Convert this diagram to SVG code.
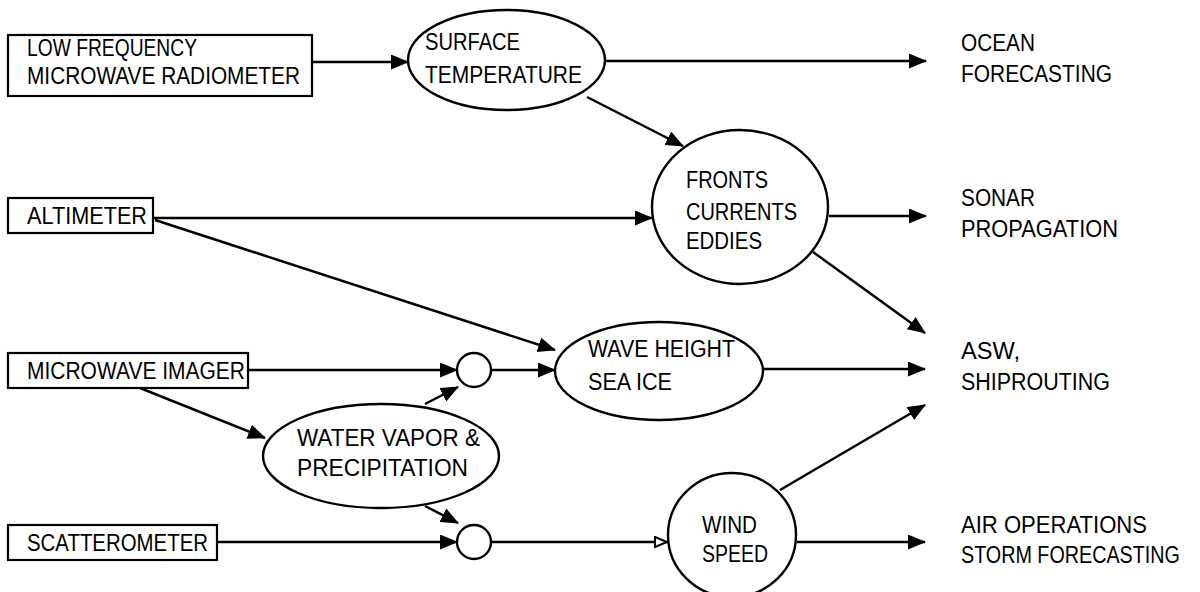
<svg xmlns="http://www.w3.org/2000/svg" width="1200" height="592" viewBox="0 0 1200 592">
<style>
text{font-family:"Liberation Sans",Arial,Helvetica,sans-serif;font-size:23.5px;fill:#000}
.box{fill:#fff;stroke:#000;stroke-width:2.2}
.shape{fill:#fff;stroke:#000;stroke-width:2.4}
.conn line{stroke:#000;stroke-width:2.5;fill:none}
</style>
<defs>
<marker id="ah" markerUnits="userSpaceOnUse" markerWidth="18" markerHeight="16" refX="17" refY="7.5" orient="auto">
<path d="M0,0 L18,7.5 L0,15 z" fill="#000"/>
</marker>
<marker id="ho" markerUnits="userSpaceOnUse" markerWidth="16" markerHeight="14" refX="14" refY="6" orient="auto">
<path d="M1,1 L13,6 L1,11 z" fill="#fff" stroke="#000" stroke-width="2"/>
</marker>
</defs>
<rect width="1200" height="592" fill="#fff"/>
<g class="conn" id="connectors">
<line x1="312" y1="62" x2="408" y2="62" marker-end="url(#ah)"/>
<line x1="605" y1="61" x2="926" y2="61" marker-end="url(#ah)"/>
<line x1="587" y1="97" x2="683" y2="146" marker-end="url(#ah)"/>
<line x1="153" y1="218" x2="652" y2="218" marker-end="url(#ah)"/>
<line x1="155" y1="220" x2="555" y2="350" marker-end="url(#ah)"/>
<line x1="829" y1="216" x2="926" y2="216" marker-end="url(#ah)"/>
<line x1="813" y1="252" x2="925" y2="333" marker-end="url(#ah)"/>
<line x1="248" y1="370" x2="457" y2="370" marker-end="url(#ah)"/>
<line x1="491" y1="370" x2="555" y2="370" marker-end="url(#ah)"/>
<line x1="763" y1="369" x2="925" y2="369" marker-end="url(#ah)"/>
<line x1="140" y1="388" x2="265" y2="438" marker-end="url(#ah)"/>
<line x1="425" y1="404" x2="458" y2="387" marker-end="url(#ah)"/>
<line x1="425" y1="506" x2="458" y2="523" marker-end="url(#ah)"/>
<line x1="217" y1="542" x2="457" y2="542" marker-end="url(#ah)"/>
<line x1="491" y1="542" x2="668" y2="542" marker-end="url(#ho)"/>
<line x1="780" y1="490" x2="925" y2="405" marker-end="url(#ah)"/>
<line x1="797" y1="542" x2="925" y2="542" marker-end="url(#ah)"/>
</g>
<g id="lfmr">
<rect class="box" x="8" y="35" width="304" height="61"/>
<text x="27" y="56" textLength="170" lengthAdjust="spacingAndGlyphs">LOW FREQUENCY</text>
<text x="27" y="84" textLength="273" lengthAdjust="spacingAndGlyphs">MICROWAVE RADIOMETER</text>
</g>
<g id="altimeter">
<rect class="box" x="8" y="198" width="145" height="35"/>
<text x="27" y="224" textLength="120" lengthAdjust="spacingAndGlyphs">ALTIMETER</text>
</g>
<g id="imager">
<rect class="box" x="8" y="353" width="240" height="35"/>
<text x="27" y="379" textLength="218" lengthAdjust="spacingAndGlyphs">MICROWAVE IMAGER</text>
</g>
<g id="scatterometer">
<rect class="box" x="8" y="525" width="209" height="35"/>
<text x="27" y="551" textLength="181" lengthAdjust="spacingAndGlyphs">SCATTEROMETER</text>
</g>
<g id="surface">
<ellipse class="shape" cx="506.5" cy="60" rx="98.5" ry="50"/>
<text x="425" y="50" textLength="95" lengthAdjust="spacingAndGlyphs">SURFACE</text>
<text x="425" y="83" textLength="157" lengthAdjust="spacingAndGlyphs">TEMPERATURE</text>
</g>
<g id="fronts">
<ellipse class="shape" cx="740" cy="207" rx="88" ry="77"/>
<text x="686" y="188" textLength="82" lengthAdjust="spacingAndGlyphs">FRONTS</text>
<text x="686" y="220" textLength="111" lengthAdjust="spacingAndGlyphs">CURRENTS</text>
<text x="686" y="249" textLength="76" lengthAdjust="spacingAndGlyphs">EDDIES</text>
</g>
<g id="mix1">
<circle class="shape" cx="474" cy="370" r="17"/>
</g>
<g id="mix2">
<circle class="shape" cx="474" cy="542" r="17"/>
</g>
<g id="wave">
<ellipse class="shape" cx="659" cy="371" rx="104" ry="49"/>
<text x="588" y="357" textLength="147" lengthAdjust="spacingAndGlyphs">WAVE HEIGHT</text>
<text x="588" y="390" textLength="84" lengthAdjust="spacingAndGlyphs">SEA ICE</text>
</g>
<g id="vapor">
<ellipse class="shape" cx="381" cy="456" rx="118" ry="52"/>
<text x="297" y="446" textLength="183" lengthAdjust="spacingAndGlyphs">WATER VAPOR &amp;</text>
<text x="297" y="476" textLength="171" lengthAdjust="spacingAndGlyphs">PRECIPITATION</text>
</g>
<g id="wind">
<ellipse class="shape" cx="732" cy="535" rx="64" ry="62"/>
<text x="702" y="533" textLength="55" lengthAdjust="spacingAndGlyphs">WIND</text>
<text x="702" y="562" textLength="66" lengthAdjust="spacingAndGlyphs">SPEED</text>
</g>
<g id="ocean">
<text x="961" y="51" textLength="74" lengthAdjust="spacingAndGlyphs">OCEAN</text>
<text x="961" y="82" textLength="151" lengthAdjust="spacingAndGlyphs">FORECASTING</text>
</g>
<g id="sonar">
<text x="961" y="206" textLength="74" lengthAdjust="spacingAndGlyphs">SONAR</text>
<text x="961" y="237" textLength="157" lengthAdjust="spacingAndGlyphs">PROPAGATION</text>
</g>
<g id="asw">
<text x="961" y="359" textLength="59" lengthAdjust="spacingAndGlyphs">ASW,</text>
<text x="961" y="390" textLength="149" lengthAdjust="spacingAndGlyphs">SHIPROUTING</text>
</g>
<g id="air">
<text x="961" y="533" textLength="186" lengthAdjust="spacingAndGlyphs">AIR OPERATIONS</text>
<text transform="translate(961,563) scale(0.84,1)" x="0" y="0">STORM FORECASTING</text>
</g>
</svg>
